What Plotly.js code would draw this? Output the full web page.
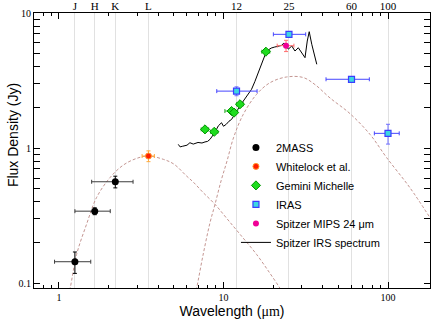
<!DOCTYPE html>
<html>
<head>
<meta charset="utf-8">
<script src="https://cdn.plot.ly/plotly-3.0.1.min.js"></script>
<style>
  html, body { margin: 0; padding: 0; background: white; }
  #sed { width: 431px; height: 320px; }
</style>
</head>
<body>
<div id="sed"></div>
<script>
// 2MASS J, H, K
const twoMassWave = [1.25, 1.65, 2.2]
const twoMassFlux = [0.144, 0.341, 0.563]
const twoMassWaveErr = [0.31, 0.4, 0.62]
const twoMassFluxErr = [0.026, 0.02, 0.056]

// Whitelock et al. L band
const whitelockWave = [3.5]
const whitelockFlux = [0.873]
const whitelockWaveErr = [0.3]
const whitelockFluxErr = [0.08]

// Gemini Michelle
const geminiWave = [7.72, 8.79, 11.2, 11.6, 12.6, 18.1]
const geminiFlux = [1.375, 1.32, 1.88, 1.83, 2.11, 5.17]
const geminiWaveErr = [0.4, 0.45, 1.0, 0.4, 0.6, 1.0]

// IRAS
const irasWave = [12, 25, 60, 100]
const irasFlux = [2.64, 6.95, 3.23, 1.285]
const irasWavePlus = [4.0, 6.6, 17, 17]
const irasWaveMinus = [2.9, 4.9, 18, 17.4]
const irasFluxErr = [0.2, 0.25, 0.15, 0.215]

// Spitzer MIPS 24um
const mipsWave = [24.0]
const mipsFlux = [5.73]
const mipsWaveErr = [2.8]
const mipsFluxErr = [0.55]

// Spitzer IRS spectrum
const irsWave = [5.31, 5.45, 5.62, 6.0, 6.25, 6.55, 7.0, 7.4, 7.72, 8.0, 8.28, 8.55, 8.85, 9.3, 9.73, 10.0,
  10.4, 10.8, 11.2, 11.6, 12.0, 12.6, 13.2, 14.0, 14.8, 15.5, 16.3, 17.0, 17.9, 18.6, 19.5, 20.5, 21.5,
  22.5, 23.3, 24.0, 24.8, 26.0, 27.2, 28.5, 29.9, 31.3, 32.3, 33.2, 34.4, 35.5, 36.9]
const irsFlux = [1.065, 1.02, 1.03, 1.05, 1.095, 1.07, 1.10, 1.09, 1.11, 1.12, 1.16, 1.22, 1.30, 1.46, 1.54, 1.45,
  1.50, 1.58, 1.63, 1.75, 1.88, 2.05, 2.23, 2.45, 2.72, 3.1, 3.6, 4.2, 4.9, 5.3, 5.5, 5.6, 5.65,
  5.75, 6.0, 5.7, 5.4, 5.7, 5.23, 5.53, 5.08, 4.67, 6.2, 7.27, 5.87, 4.94, 4.17]

// stellar photosphere model
const starWave = [1.12, 1.17, 1.28, 1.47, 1.69, 2.04, 2.46, 2.97, 3.49, 4.31, 5.0, 5.97, 6.55, 7.5, 8.88, 10.5, 12.6, 15.9, 19, 22.0, 23.5]
const starFlux = [0.075, 0.092, 0.163, 0.272, 0.429, 0.603, 0.748, 0.839, 0.873, 0.825, 0.76, 0.62, 0.56, 0.47, 0.383, 0.30, 0.23, 0.163, 0.12, 0.092, 0.08]

// dust model
const dustWave = [6.6, 6.87, 7.5, 8.28, 8.88, 9.7, 10.5, 11.5, 13.2, 15.9, 19.2, 24.2, 30.5, 36, 44.4, 58.7, 77.8, 98.2, 136, 180]
const dustFlux = [0.075, 0.092, 0.16, 0.28, 0.383, 0.58, 0.80, 1.19, 1.78, 2.5, 3.05, 3.36, 3.33, 2.95, 2.35, 1.8, 1.26, 0.848, 0.508, 0.305]

// photometric bands on the top axis
const bandWave = [1.25, 1.65, 2.2, 3.5, 12, 25, 60, 100]
const bandLabels = ['J', 'H', 'K', 'L', '12', '25', '60', '100']

const colorModel = 'rgb(196,150,146)'
const fontSerif = 'Liberation Serif, Times New Roman, serif'
const fontSans = 'Liberation Sans, Arial, sans-serif'

const xRange = [Math.log10(0.705), Math.log10(180)]
const yRange = [Math.log10(0.092), 1]

const minorTicks = (decades) => decades.flatMap(d => [2, 3, 4, 5, 6, 7, 8, 9].map(m => m * d))

const errBar = (arr, color, minus) => {
	const e = { type: 'data', array: arr, visible: true, color: color, thickness: 1, width: 2 }
	if (minus) { e.symmetric = false; e.arrayminus = minus }
	return e
}

const data = [
	{
		// carries the top band axis
		x: bandWave, y: bandWave.map(() => 1), xaxis: 'x2', type: 'scatter', mode: 'markers',
		marker: { opacity: 0 }, showlegend: false, hoverinfo: 'skip'
	},
	{
		x: starWave, y: starFlux, type: 'scatter', mode: 'lines', showlegend: false, hoverinfo: 'skip',
		line: { color: colorModel, width: 1, dash: '3px,2px', shape: 'spline' }
	},
	{
		x: dustWave, y: dustFlux, type: 'scatter', mode: 'lines', showlegend: false, hoverinfo: 'skip',
		line: { color: colorModel, width: 1, dash: '3px,2px', shape: 'spline' }
	},
	{
		x: twoMassWave, y: twoMassFlux, type: 'scatter', mode: 'markers', name: '2MASS',
		marker: { color: 'black', size: 7 },
		error_x: errBar(twoMassWaveErr, 'rgb(60,60,60)'),
		error_y: errBar(twoMassFluxErr, 'black'), legendrank: 1
	},
	{
		x: whitelockWave, y: whitelockFlux, type: 'scatter', mode: 'markers', name: 'Whitelock et al.',
		marker: { color: 'rgb(255,30,0)', size: 6, line: { color: 'rgb(255,150,40)', width: 1 } },
		error_x: errBar(whitelockWaveErr, 'rgb(255,170,60)'),
		error_y: errBar(whitelockFluxErr, 'rgb(255,170,60)'), legendrank: 2
	},
	{
		x: irsWave, y: irsFlux, type: 'scatter', mode: 'lines', name: 'Spitzer IRS spectrum',
		line: { color: 'black', width: 1 }, legendrank: 6
	},
	{
		x: geminiWave, y: geminiFlux, type: 'scatter', mode: 'markers', name: 'Gemini Michelle',
		marker: { symbol: 'diamond', color: 'rgb(30,220,30)', size: 7, line: { color: 'rgb(0,150,0)', width: 1 } },
		error_x: errBar(geminiWaveErr, 'rgb(40,170,40)'), legendrank: 3
	},
	{
		x: irasWave, y: irasFlux, type: 'scatter', mode: 'markers', name: 'IRAS',
		marker: { symbol: 'square', color: 'rgb(60,215,225)', size: 6, line: { color: 'rgb(60,60,255)', width: 1.2 } },
		error_x: errBar(irasWavePlus, 'rgb(70,70,255)', irasWaveMinus),
		error_y: errBar(irasFluxErr, 'rgb(110,110,255)'), legendrank: 4
	},
	{
		x: mipsWave, y: mipsFlux, type: 'scatter', mode: 'markers', name: 'Spitzer MIPS 24 \u03bcm',
		marker: { color: 'rgb(240,0,150)', size: 6 },
		error_x: errBar(mipsWaveErr, 'rgb(255,110,110)'),
		error_y: errBar(mipsFluxErr, 'rgb(255,110,110)'), legendrank: 5
	}
]

const layout = {
	width: 431,
	height: 320,
	margin: { l: 34, r: 1, t: 13, b: 32 },
	paper_bgcolor: 'white',
	plot_bgcolor: 'white',
	showlegend: true,
	legend: {
		x: 0.51, y: 0.564, xanchor: 'left', yanchor: 'top',
		bgcolor: 'rgba(255,255,255,0)', borderwidth: 0,
		font: { family: fontSans, size: 11, color: 'black' }
	},
	xaxis: {
		type: 'log', range: xRange,
		tickmode: 'array', tickvals: [1, 10, 100], ticktext: ['1', '10', '100'],
		ticks: 'inside', ticklen: 6, tickcolor: 'black', mirror: 'allticks',
		showline: true, linecolor: 'black', linewidth: 1, showgrid: false, zeroline: false,
		minor: { tickmode: 'array', tickvals: minorTicks([0.1, 1, 10]).filter(v => v > 0.7), ticks: 'inside', ticklen: 3, tickcolor: 'black', showgrid: false },
		tickfont: { family: fontSerif, size: 10, color: 'black' },
		title: {
			text: 'Wavelength (<span style="font-family:Liberation Serif">\u03bcm</span>)',
			font: { family: fontSans, size: 14, color: 'black' }, standoff: 0
		}
	},
	xaxis2: {
		type: 'log', range: xRange, overlaying: 'x', side: 'top', anchor: 'y',
		tickmode: 'array', tickvals: bandWave, ticktext: bandLabels,
		ticks: '', showline: false, zeroline: false,
		showgrid: true, gridcolor: 'rgb(225,225,225)', gridwidth: 1,
		tickfont: { family: fontSerif, size: 11, color: 'black' }
	},
	yaxis: {
		type: 'log', range: yRange,
		tickmode: 'array', tickvals: [0.1, 1, 10], ticktext: ['0.1', '1', '10'],
		ticks: 'inside', ticklen: 6, tickcolor: 'black', mirror: 'allticks',
		showline: true, linecolor: 'black', linewidth: 1, showgrid: false, zeroline: false,
		minor: { tickmode: 'array', tickvals: minorTicks([0.1, 1]), ticks: 'inside', ticklen: 3, tickcolor: 'black', showgrid: false },
		tickfont: { family: fontSerif, size: 10, color: 'black' }
	},
	annotations: [
		{
			text: 'Flux Density (Jy)', textangle: -90, showarrow: false,
			xref: 'paper', yref: 'paper', x: -0.053, y: 0.556, xanchor: 'center', yanchor: 'middle',
			font: { family: fontSans, size: 14, color: 'black' }
		}
	]
}

Plotly.newPlot('sed', data, layout, { staticPlot: true })
</script>
</body>
</html>
